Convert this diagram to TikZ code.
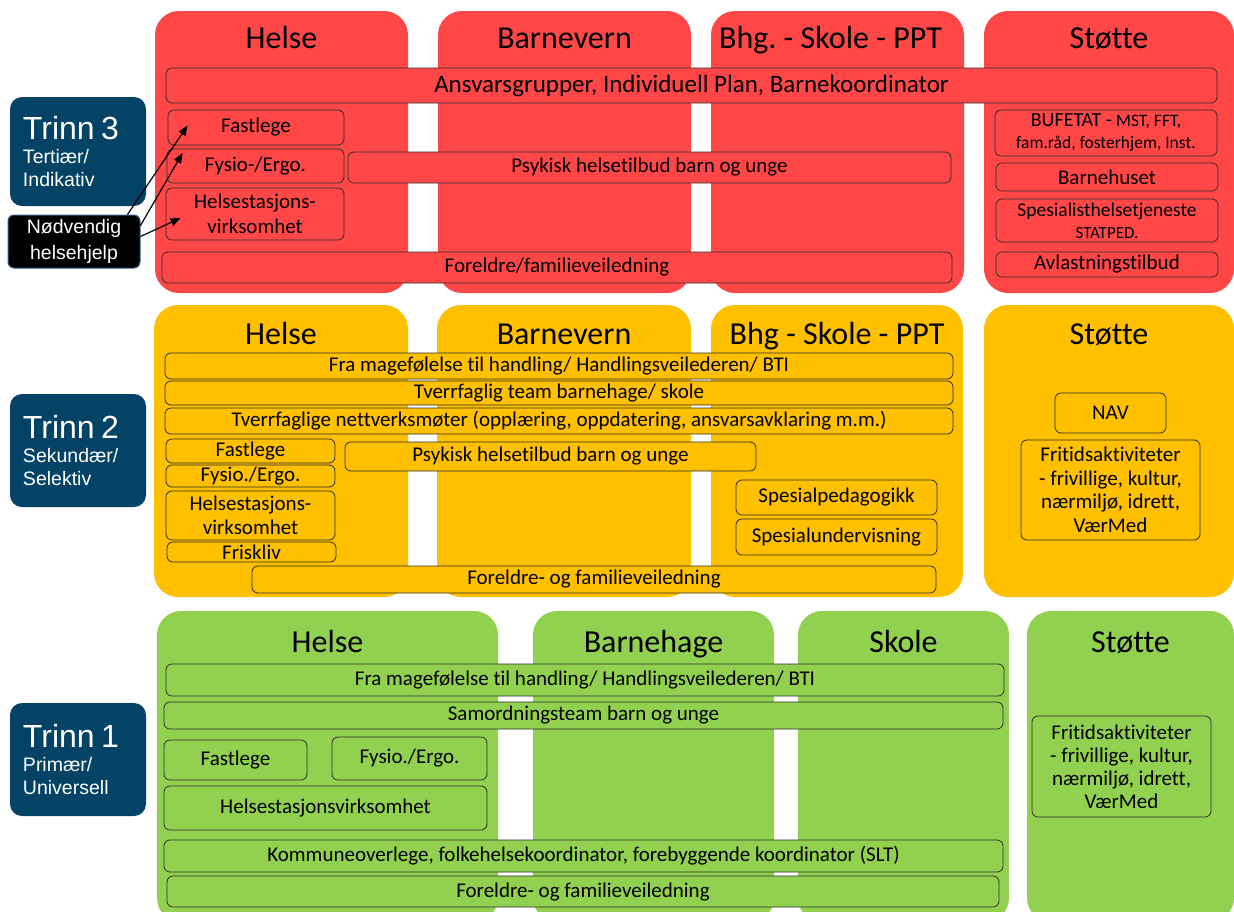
\documentclass[tikz,border=0pt]{standalone}
\usepackage{fontspec}
\setmainfont{Carlito}[Ligatures=NoCommon]
\newfontfamily\arialf{Liberation Sans}
\usetikzlibrary{arrows.meta}
\definecolor{rodt}{RGB}{255,71,71}
\definecolor{gult}{RGB}{255,192,0}
\definecolor{gront}{RGB}{146,208,80}
\definecolor{trinnbla}{RGB}{4,67,102}
\definecolor{kant}{RGB}{45,45,45}
\definecolor{nodkant}{RGB}{60,90,140}
\newcommand{\fsz}[1]{\fontsize{#1}{24}\selectfont}
\begin{document}
\begin{tikzpicture}[x=1pt,y=-1pt,>={Triangle[length=10pt,width=8pt]},line join=round,
	col/.style={rounded corners=24pt,inner sep=0pt},
	head/.style={anchor=base,font=\fsz{32}},
	item/.style={draw=kant,line width=.8pt,rounded corners=6pt,inner sep=0pt,align=center,font=\fsz{21}},
	i3/.style={item,fill=rodt},
	i2/.style={item,fill=gult},
	i1/.style={item,fill=gront},
	trinn/.style={fill=trinnbla,rounded corners=12pt,text=white,align=left,text width=110pt,inner xsep=13pt,inner ysep=0pt,font=\arialf\fontsize{19.5}{23.5}\selectfont}]
	\useasboundingbox (0,0) rectangle (1234,911);
	% trinn 3
	\node[col,fill=rodt,minimum width=253,minimum height=282] (c3helse) at (281.5,152) {};
	\node[col,fill=rodt,minimum width=253,minimum height=282] (c3barnevern) at (564.5,152) {};
	\node[col,fill=rodt,minimum width=253,minimum height=282] (c3bhg) at (837.5,152) {};
	\node[col,fill=rodt,minimum width=250,minimum height=282] (c3stotte) at (1109,152) {};
	\node[head] (h3helse) at ([yshift=-37.5pt]c3helse.north) {Helse};
	\node[head] (h3barnevern) at ([yshift=-37.5pt]c3barnevern.north) {Barnevern};
	\node[head] (h3bhg) at ([xshift=-7pt,yshift=-37.5pt]c3bhg.north) {Bhg.~- Skole - PPT};
	\node[head] (h3stotte) at ([yshift=-37.5pt]c3stotte.north) {Støtte};
	\node[i3,minimum width=1051,minimum height=35,font=\fsz{25}] (ansvar) at (691.5,85.5) {Ansvarsgrupper, Individuell Plan, Barnekoordinator};
	\node[i3,minimum width=176,minimum height=35] (f3fast) at (256,127.5) {Fastlege};
	\node[i3,minimum width=177,minimum height=34] (f3fysio) at (255.5,166) {Fysio-/Ergo.};
	\node[i3,minimum width=178,minimum height=52,font=\fontsize{21}{25}\selectfont] (f3hs) at (255,214) {Helsestasjons-\\virksomhet};
	\node[i3,minimum width=603,minimum height=31] (f3psyk) at (649.5,167.5) {Psykisk helsetilbud barn og unge};
	\node[i3,minimum width=790,minimum height=31] (f3foreldre) at (557,267.5) {Foreldre/familieveiledning};
	\node[i3,minimum width=222,minimum height=46,font=\fontsize{17.5}{22}\selectfont] (bufetat) at (1106,133) {{\fontsize{20}{22}\selectfont BUFETAT -} MST, FFT,\\fam.råd, fosterhjem, Inst.};
	\node[i3,minimum width=222,minimum height=28] (barnehuset) at (1107,177) {Barnehuset};
	\node[i3,minimum width=222,minimum height=43,font=\fontsize{17}{22}\selectfont] (spes) at (1107,220.5) {{\fontsize{19.5}{22}\selectfont Spesialisthelsetjeneste}\\STATPED.};
	\node[i3,minimum width=222,minimum height=25] (avlast) at (1107,264.5) {Avlastningstilbud};
	% trinn 2
	\node[col,fill=gult,minimum width=254,minimum height=292] (c2helse) at (281,451) {};
	\node[col,fill=gult,minimum width=254,minimum height=292] (c2barnevern) at (564,451) {};
	\node[col,fill=gult,minimum width=252,minimum height=292] (c2bhg) at (837,451) {};
	\node[col,fill=gult,minimum width=250,minimum height=292] (c2stotte) at (1109,451) {};
	\node[head] (h2helse) at ([yshift=-39.5pt]c2helse.north) {Helse};
	\node[head] (h2barnevern) at ([yshift=-39.5pt]c2barnevern.north) {Barnevern};
	\node[head] (h2bhg) at ([yshift=-39.5pt]c2bhg.north) {Bhg - Skole - PPT};
	\node[head] (h2stotte) at ([yshift=-39.5pt]c2stotte.north) {Støtte};
	\node[i2,minimum width=788,minimum height=26] (mage2) at (559,366) {Fra magefølelse til handling/ Handlingsveilederen/ BTI};
	\node[i2,minimum width=788,minimum height=24] (team2) at (559,393) {Tverrfaglig team barnehage/ skole};
	\node[i2,minimum width=788,minimum height=26] (nett2) at (559,421) {Tverrfaglige nettverksmøter (opplæring, oppdatering, ansvarsavklaring m.m.)};
	\node[i2,minimum width=169,minimum height=24] (f2fast) at (250.5,451) {Fastlege};
	\node[i2,minimum width=169,minimum height=22] (f2fysio) at (250.5,476) {Fysio./Ergo.};
	\node[i2,minimum width=169,minimum height=49] (f2hs) at (250.5,515.5) {Helsestasjons-\\virksomhet};
	\node[i2,minimum width=169,minimum height=20] (f2frisk) at (251.5,552) {Friskliv};
	\node[i2,minimum width=411,minimum height=29] (f2psyk) at (550.5,456.5) {Psykisk helsetilbud barn og unge};
	\node[i2,minimum width=201,minimum height=35] (spesped) at (836.5,497.5) {Spesialpedagogikk};
	\node[i2,minimum width=201,minimum height=36] (spesund) at (836.5,537) {Spesialundervisning};
	\node[i2,minimum width=684,minimum height=27] (f2foreldre) at (594,579.5) {Foreldre- og familieveiledning};
	\node[i2,minimum width=111,minimum height=40] (nav) at (1110.5,413) {NAV};
	\node[i2,minimum width=179,minimum height=100,font=\fontsize{21}{23.5}\selectfont] (frit2) at (1110.5,490) {Fritidsaktiviteter\\- frivillige, kultur,\\nærmiljø, idrett,\\VærMed};
	% trinn 1
	\node[col,fill=gront,minimum width=341,minimum height=311] (c1helse) at (327.5,766.5) {};
	\node[col,fill=gront,minimum width=241,minimum height=311] (c1barnehage) at (653.5,766.5) {};
	\node[col,fill=gront,minimum width=211,minimum height=311] (c1skole) at (903.5,766.5) {};
	\node[col,fill=gront,minimum width=207,minimum height=311] (c1stotte) at (1130.5,766.5) {};
	\node[head] (h1helse) at ([yshift=-41.5pt]c1helse.north) {Helse};
	\node[head] (h1barnehage) at ([yshift=-41.5pt]c1barnehage.north) {Barnehage};
	\node[head] (h1skole) at ([yshift=-41.5pt]c1skole.north) {Skole};
	\node[head] (h1stotte) at ([yshift=-41.5pt]c1stotte.north) {Støtte};
	\node[i1,minimum width=838,minimum height=32] (mage1) at (585,680) {Fra magefølelse til handling/ Handlingsveilederen/ BTI};
	\node[i1,minimum width=839,minimum height=27] (samord) at (583.5,715.5) {Samordningsteam barn og unge};
	\node[i1,minimum width=143,minimum height=40] (f1fast) at (235.5,760) {Fastlege};
	\node[i1,minimum width=155,minimum height=43] (f1fysio) at (409.5,758.5) {Fysio./Ergo.};
	\node[i1,minimum width=323,minimum height=44] (f1hs) at (325.5,808) {Helsestasjonsvirksomhet};
	\node[i1,minimum width=839,minimum height=32] (kommune) at (583.5,856) {Kommuneoverlege, folkehelsekoordinator, forebyggende koordinator (SLT)};
	\node[i1,minimum width=832,minimum height=31] (f1foreldre) at (583,891.5) {Foreldre- og familieveiledning};
	\node[i1,minimum width=179,minimum height=101,font=\fontsize{21}{23}\selectfont] (frit1) at (1121.5,766.5) {Fritidsaktiviteter\\- frivillige, kultur,\\nærmiljø, idrett,\\VærMed};
	% trinn
	\node[trinn,minimum height=109] (t3) at (78,151.5) {{\fontsize{32}{30}\selectfont Trinn 3}\\Tertiær/\\Indikativ};
	\node[trinn,minimum height=113] (t2) at (78,450.5) {{\fontsize{32}{30}\selectfont Trinn 2}\\Sekundær/\\Selektiv};
	\node[trinn,minimum height=113] (t1) at (78,759.5) {{\fontsize{32}{30}\selectfont Trinn 1}\\Primær/\\Universell};
	\node[fill=black,draw=nodkant,line width=1pt,rounded corners=6pt,text=white,align=center,minimum width=132,minimum height=53,inner sep=0pt,font=\arialf\fontsize{19.5}{25.5}\selectfont] (nod) at (74,241.5) {Nødvendig\\helsehjelp};
	\draw[->,line width=1.2pt] ([xshift=-13pt]nod.north east) -- ([xshift=20pt,yshift=2pt]f3fast.west);
	\draw[->,line width=1.2pt] ([yshift=16pt]nod.east) -- ([xshift=16pt,yshift=13pt]f3fysio.west);
	\draw[->,line width=1.2pt] ([yshift=5pt]nod.east) -- ([xshift=15pt,yshift=-4pt]f3hs.west);
\end{tikzpicture}
\end{document}
